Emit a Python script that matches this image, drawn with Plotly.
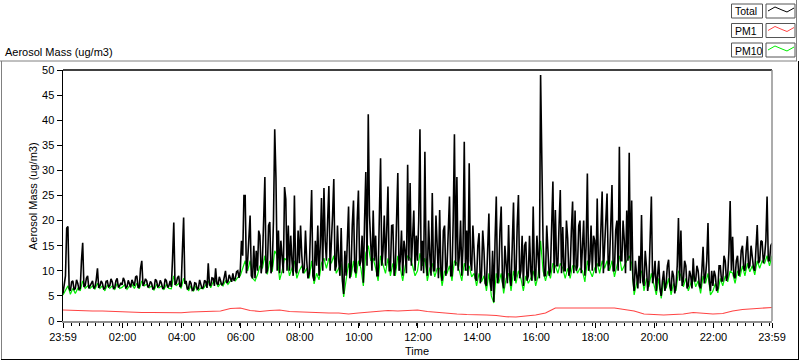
import plotly.graph_objects as go

# ---------------- data ----------------
# Total aerosol mass, one value every 2.5 minutes from 23:59 (minute 0) to 23:59 (minute 1440)
total_hours = [
    [5.5, 7, 9, 18.5, 18.8, 6.5, 6, 7.8, 8, 6.2, 6.5, 8.2, 7.5, 6.3, 6.5, 12, 15.6, 6.8, 7, 8.5, 9, 6.5, 7, 7.8],
    [8, 6.5, 6.8, 8.2, 10.5, 6.6, 7, 8, 7.5, 6.4, 6.5, 7.9, 8, 6.8, 7, 8.4, 7.8, 6.5, 6.6, 8, 8.5, 6.7, 7, 7.6],
    [7.2, 8.6, 8, 6.6, 6.8, 8.1, 7.5, 6.7, 8.2, 7.6, 7, 8.8, 9, 6.6, 6.8, 10.5, 12, 7, 7.5, 8.4, 8, 6.7, 7, 7.9],
    [7.5, 6.4, 6.5, 8.3, 8, 6.8, 7, 8.1, 7.5, 6.5, 6.6, 8.4, 8, 6.7, 7, 8, 6.8, 12.5, 19.6, 7.2, 7.5, 8.6, 9, 6.8],
    [7, 14, 20.6, 7.4, 8, 6.3, 6.5, 8, 7.5, 6.1, 6.2, 7.6, 7.5, 6.3, 6.5, 8.2, 7, 6.4, 6.8, 8.1, 7.8, 6.6, 11.5, 7.2],
    [7, 8.6, 8.5, 7, 10.5, 7.5, 7.2, 8.8, 8, 7.1, 7.5, 9, 10, 7.6, 7.8, 9.2, 8.5, 7.8, 9.5, 8, 8.5, 9.8, 10, 8.6],
    [10, 16, 13, 25, 25, 9.5, 12, 18, 21, 9, 8.5, 15, 8.5, 14, 10, 18, 17, 9.5, 12, 20, 28.7, 9.5, 10, 19],
    [19.7, 9.5, 11, 20, 38.2, 28.7, 10, 18, 9.5, 16, 12, 9.5, 26.7, 24.3, 10, 19, 10, 17, 12, 9, 25, 10, 9.5, 18],
    [11.5, 19, 13, 9.5, 10.5, 18, 12, 8.5, 9.5, 17, 26.1, 9, 8, 16, 11, 19, 9, 15, 24.5, 10, 26.5, 16, 12, 20],
    [26.9, 10, 15, 21, 28.3, 10, 11, 19, 12, 9, 18.5, 8, 5.4, 14, 9, 18, 22.8, 8.5, 10, 19, 24, 10, 9.5, 20],
    [26, 11, 12, 17, 7.6, 20, 29.7, 11, 41.2, 21, 16, 10, 22, 12, 17, 9, 9, 19, 32.4, 11, 14, 21, 11, 18],
    [26.8, 10, 10, 19, 19.1, 9, 10.5, 20, 29.5, 10, 12, 18, 9, 16, 14, 9.5, 31.1, 12, 27.5, 11, 16, 22, 10, 17],
    [12, 20, 38.2, 10, 16, 9.5, 33.7, 12, 9, 20, 13, 9, 25.5, 10, 10, 21, 15, 8.5, 22.1, 10, 8, 18, 19, 9],
    [11, 18, 24.8, 9, 9, 20, 37.2, 11, 28.7, 10, 13, 20, 9, 15, 35.7, 10, 18, 9, 31.4, 12, 10, 19, 12, 8.5],
    [8, 15, 17.5, 7.5, 9, 18, 14, 7.5, 7, 15, 21.4, 8, 6, 14, 3.8, 16, 24.8, 7.5, 9, 18, 22.8, 8, 6.5, 15],
    [11, 7.5, 19.1, 9, 7, 17, 23.6, 8, 9, 19, 25.1, 8.5, 10, 17, 7, 15, 15.8, 8, 9, 17, 10, 8, 22.8, 9.5],
    [8, 17, 12, 8.5, 49, 28.4, 16, 9, 9, 19, 14, 9, 10, 18, 27.8, 9.5, 22.1, 11, 11, 19, 26.1, 9.5, 18.7, 10],
    [10, 20, 16.5, 9, 10, 18, 23.8, 9.5, 22, 10, 11, 19, 20, 9.5, 14, 20, 9, 15, 29.4, 10, 12, 19, 10, 17],
    [16, 9.5, 24.4, 11, 11, 20, 25.8, 9.5, 14, 21, 25.4, 10, 12, 19, 27.1, 10, 10, 18, 20, 10, 34.7, 12, 12, 20],
    [16, 9.5, 22, 12, 33.5, 10, 24, 8.5, 6, 12, 9, 6.5, 13, 7.5, 21.1, 8, 7, 14, 10.8, 6, 8, 15, 24.8, 7.5],
    [9, 12, 6, 9, 12, 6.5, 5, 8, 10, 6, 7.5, 11, 12.2, 7, 6, 10, 9, 5.5, 7, 11, 20.5, 8, 18, 7],
    [8, 12, 11, 6.5, 7, 10, 9, 6.5, 12.5, 8, 8, 11, 10, 7, 6.5, 10, 14.8, 7.5, 9, 12, 19.5, 8, 6, 10],
    [7, 10, 9, 6, 6.5, 11, 11, 8, 8, 13, 12, 8, 9, 14, 23.9, 10, 16.8, 9, 8.5, 12, 13, 9, 10, 14],
    [15, 10.5, 10, 14, 16.9, 10.5, 11, 15, 13, 10.5, 10, 15, 19.1, 11.5, 12, 16, 15.8, 11.5, 13, 16, 24.8, 12, 12, 15, 15.5],
]

# PM10, one value every 5 minutes
pm10_hours = [
    [5.2, 6, 7, 5.3, 6.5, 5.5, 6.5, 6, 8, 6.5, 7, 6.5],
    [7, 6.3, 7.5, 6.5, 7, 6, 7.2, 6.5, 7, 6.2, 7.5, 6.5],
    [6.7, 7.2, 6.3, 7, 7.3, 6.5, 7.5, 6.4, 8, 7, 7.3, 6.6],
    [7, 6.1, 7.3, 6.6, 7, 6.2, 7.3, 6.5, 6.4, 9, 7, 7.5],
    [6.5, 8.5, 7.2, 6, 7, 5.9, 7, 6.1, 6.6, 6.4, 7.2, 8],
    [6.6, 7.8, 8, 6.8, 7.5, 7, 8, 7.3, 8, 8.5, 8, 8.7],
    [9, 10.5, 12, 10, 12, 8.5, 8, 9.2, 11, 10.5, 13, 9.3],
    [12, 9.8, 14, 13, 8.2, 10, 12.5, 12, 9, 10.5, 12, 8.5],
    [10, 11, 9.5, 10.5, 8.5, 12, 7.4, 9.5, 8.2, 11.5, 12.5, 10.5],
    [12.5, 11.5, 13, 9.5, 10.5, 11.5, 4.8, 8, 11.5, 8.8, 12, 8.6],
    [12, 10.5, 7, 13.5, 15, 12, 12.5, 10.5, 8, 13, 11, 9.5],
    [12.5, 9, 11.5, 9, 13, 10.5, 8, 11, 13, 12.5, 11, 9],
    [10, 13.5, 11, 12.5, 8, 10.5, 11.5, 8.8, 10.5, 10.5, 7, 10],
    [9.5, 11, 8, 12, 11.5, 10, 8, 11.5, 10, 11, 8.8, 9.5],
    [7, 9.5, 7.8, 9, 6, 9.5, 5, 3.6, 9.5, 7.5, 9.5, 5.5],
    [8.5, 9.5, 6, 10, 7.5, 10, 8.5, 6, 9, 7.5, 8.5, 10],
    [7, 9, 16, 10, 8, 10, 8.5, 11.5, 11, 9.5, 11.5, 10.5],
    [8.5, 10.5, 8.5, 11, 11, 9.5, 10.5, 10, 7.8, 12, 10, 8.8],
    [10.5, 11.5, 9.5, 12, 10.5, 12, 10, 12, 8.8, 11, 13, 10],
    [11, 12, 13, 11.5, 5.2, 7.5, 9.5, 10, 6, 8.5, 6.8, 9.5],
    [7.5, 5.2, 8.5, 4.5, 8, 6.5, 8.5, 5.2, 7.5, 6, 10, 9],
    [6.8, 8.5, 6, 7.5, 9, 6.8, 8, 5.5, 9, 7.5, 9.5, 5.2],
    [6, 7.5, 5.6, 8.5, 7, 9, 7.8, 10, 9.5, 7.5, 10, 8.8],
    [11, 9, 11.5, 9.8, 11, 9.2, 12, 10.5, 12, 11.5, 13, 11, 13],
]

# PM1, one value every 20 minutes
pm1_values = [
    2.2, 2.1, 2.0, 2.0, 2.0, 1.9, 1.9, 1.8, 1.7, 1.7, 1.7, 1.6,
    1.65, 1.8, 1.85, 1.8, 2.0, 2.5, 2.6, 2.1, 1.9, 2.1, 2.2, 1.9,
    1.8, 1.7, 1.7, 1.6, 1.6, 1.4, 1.6, 1.8, 2.0, 2.1, 2.0, 2.1,
    2.2, 1.9, 1.7, 1.6, 1.4, 1.3, 1.3, 1.2, 1.1, 0.85, 0.8, 1.0,
    1.2, 1.6, 2.6, 2.6, 2.6, 2.6, 2.6, 2.6, 2.6, 2.3, 2.0, 1.4,
    1.3, 1.2, 1.3, 1.4, 1.7, 1.5, 1.4, 1.5, 2.0, 2.3, 2.4, 2.5, 2.7,
]

tick_minutes = [0, 121, 241, 361, 481, 601, 721, 841, 961, 1081, 1201, 1321, 1440]
tick_labels = ["23:59", "02:00", "04:00", "06:00", "08:00", "10:00", "12:00",
               "14:00", "16:00", "18:00", "20:00", "22:00", "23:59"]

series_names = ["Total", "PM1", "PM10"]
series_colors = ["#000000", "#ff4444", "#00ee00"]

total = [v for h in total_hours for v in h]
pm10 = [v for h in pm10_hours for v in h]
t_total = [2.5 * i for i in range(len(total))]
t_pm10 = [5 * i for i in range(len(pm10))]
t_pm1 = [20 * i for i in range(len(pm1_values))]

# ---------------- figure ----------------
W, H = 800, 361
L, R, T, B = 63, 772, 70, 321
FONT = "Liberation Sans"


def px(x):
    return (x - L) / (R - L)


def py(y):
    return (B - y) / (B - T)


fig = go.Figure()
fig.add_trace(go.Scatter(x=t_pm10, y=pm10, mode="lines", name=series_names[2],
                         line=dict(color=series_colors[2], width=1.2), hoverinfo="skip"))
fig.add_trace(go.Scatter(x=t_pm1, y=pm1_values, mode="lines", name=series_names[1],
                         line=dict(color=series_colors[1], width=1.1), hoverinfo="skip"))
fig.add_trace(go.Scatter(x=t_total, y=total, mode="lines", name=series_names[0],
                         line=dict(color=series_colors[0], width=1.6), hoverinfo="skip"))

shapes = []
# panel frame
shapes.append(dict(type="line", xref="paper", yref="paper", x0=px(0), x1=px(797), y0=py(61), y1=py(61),
                   line=dict(color="#808080", width=1)))
shapes.append(dict(type="line", xref="paper", yref="paper", x0=px(1.5), x1=px(1.5), y0=py(61), y1=py(359),
                   line=dict(color="#808080", width=1)))
shapes.append(dict(type="line", xref="paper", yref="paper", x0=px(1), x1=px(799), y0=py(359.5), y1=py(359.5),
                   line=dict(color="#000000", width=1)))
shapes.append(dict(type="line", xref="paper", yref="paper", x0=px(798.5), x1=px(798.5), y0=py(61), y1=py(360),
                   line=dict(color="#000000", width=1)))
shapes.append(dict(type="line", xref="paper", yref="paper", x0=px(796.5), x1=px(796.5), y0=py(0), y1=py(61),
                   line=dict(color="#808080", width=1)))
# plot area frame: top black, right gray
shapes.append(dict(type="line", xref="paper", yref="paper", x0=0, x1=1, y0=1, y1=1,
                   line=dict(color="#000000", width=1.5)))
shapes.append(dict(type="line", xref="paper", yref="paper", x0=1, x1=1, y0=0, y1=1,
                   line=dict(color="#909090", width=1.5)))

annotations = []
# legend boxes
row_tops = [4, 23.5, 43]
sample = [(768, 11), (775, 7), (782, 10), (787, 12), (794, 8)]
for name, color, top in zip(series_names, series_colors, row_tops):
    shapes.append(dict(type="rect", xref="paper", yref="paper",
                       x0=px(731.5), x1=px(762.5), y0=py(top), y1=py(top + 14),
                       line=dict(color="#555555", width=1), fillcolor="white"))
    shapes.append(dict(type="rect", xref="paper", yref="paper",
                       x0=px(766), x1=px(795), y0=py(top), y1=py(top + 14),
                       line=dict(color="#555555", width=1), fillcolor="white"))
    path = "M " + " L ".join(f"{px(a):.5f},{py(top + b - 4):.5f}" for a, b in sample)
    shapes.append(dict(type="path", xref="paper", yref="paper", path=path,
                       line=dict(color=color, width=1)))
    annotations.append(dict(text=name, xref="paper", yref="paper", x=px(732.5), y=py(top + 7.5),
                            xanchor="left", yanchor="middle", showarrow=False,
                            font=dict(family=FONT, size=10.5, color="black")))

annotations.append(dict(text="Aerosol Mass (ug/m3)", xref="paper", yref="paper", x=px(3), y=py(52),
                        xanchor="left", yanchor="middle", showarrow=False,
                        font=dict(family=FONT, size=11, color="black")))
annotations.append(dict(text="Aerosol Mass (ug/m3)", xref="paper", yref="paper", x=px(33), y=py(196),
                        xanchor="center", yanchor="middle", textangle=-90, showarrow=False,
                        font=dict(family=FONT, size=11, color="black")))
annotations.append(dict(text="Time", xref="paper", yref="paper", x=px(417), y=py(351),
                        xanchor="center", yanchor="middle", showarrow=False,
                        font=dict(family=FONT, size=11, color="black")))

fig.update_layout(
    width=W, height=H,
    margin=dict(l=L, r=W - R, t=T, b=H - B, pad=0),
    paper_bgcolor="white", plot_bgcolor="white",
    showlegend=False,
    font=dict(family=FONT, size=11, color="black"),
    shapes=shapes, annotations=annotations,
    xaxis=dict(range=[0, 1440], tickmode="array", tickvals=tick_minutes, ticktext=tick_labels,
               showgrid=False, zeroline=False, showline=True, linecolor="#909090", linewidth=1.5,
               ticks="outside", ticklen=5, tickcolor="black", tickwidth=1,
               minor=dict(ticks="outside", ticklen=3, tickcolor="black", tick0=0, dtick=16.3, showgrid=False),
               tickfont=dict(family=FONT, size=11, color="black"), fixedrange=True),
    yaxis=dict(range=[0, 50], tickmode="linear", tick0=0, dtick=5,
               showgrid=False, zeroline=False, showline=True, linecolor="black", linewidth=1.5,
               ticks="outside", ticklen=5, tickcolor="black", tickwidth=1,
               tickfont=dict(family=FONT, size=11, color="black"), fixedrange=True),
)

fig.write_html("out.html", config={"displayModeBar": False, "staticPlot": True},
               post_script="document.body.style.margin='0px';document.body.style.overflow='hidden';")
